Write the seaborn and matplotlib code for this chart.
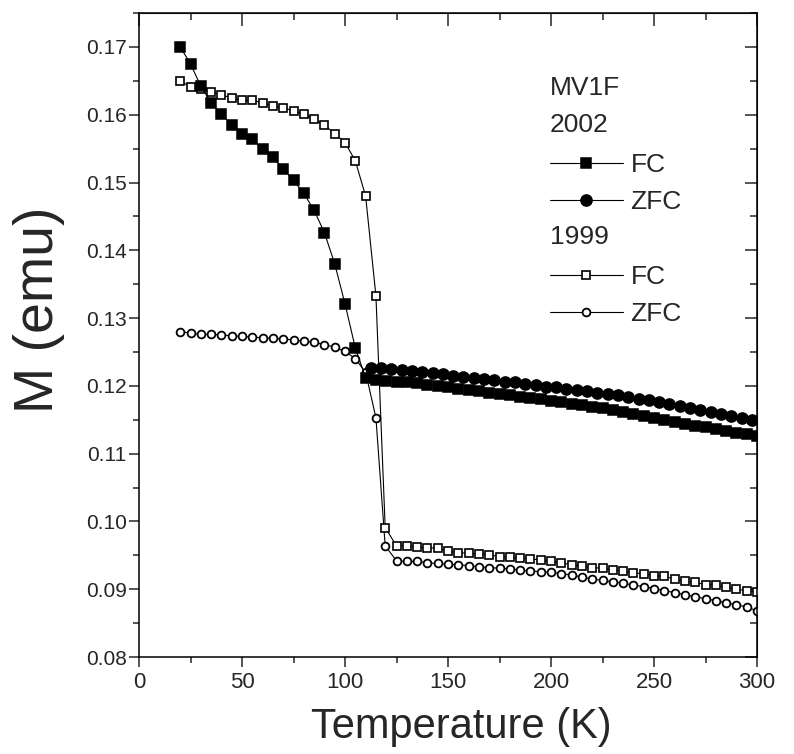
import numpy as np
import pandas as pd
import matplotlib
matplotlib.use("Agg")
import matplotlib.pyplot as plt
import seaborn as sns
from matplotlib.ticker import MultipleLocator, FormatStrFormatter

sns.set_style("ticks")
plt.rcParams['font.family'] = ['Liberation Sans', 'DejaVu Sans']

# 2002 FC (quadrados cheios)
t_fc02 = [20, 25, 30, 35, 40, 45, 50, 55, 60, 65, 70, 75, 80, 85, 90, 95, 100, 105,
          110, 115, 120, 125, 130, 135, 140, 145, 150, 155, 160, 165, 170, 175, 180, 185,
          190, 195, 200, 205, 210, 215, 220, 225, 230, 235, 240, 245, 250, 255, 260, 265,
          270, 275, 280, 285, 290, 295, 300]
m_fc02 = [0.1700, 0.1675, 0.1642, 0.1618, 0.1601, 0.1585, 0.1572, 0.1564, 0.1549, 0.1537,
          0.1520, 0.1503, 0.1484, 0.1459, 0.1426, 0.1380, 0.1321, 0.1256,
          0.1212, 0.1209, 0.1207, 0.1206, 0.1205, 0.1204, 0.1202, 0.1200, 0.1198, 0.1196,
          0.1194, 0.1192, 0.1190, 0.1188, 0.1186, 0.1184, 0.1182, 0.1180, 0.1178, 0.1176,
          0.1174, 0.1172, 0.1169, 0.1167, 0.1164, 0.1161, 0.1158, 0.1155, 0.1152, 0.1150,
          0.1147, 0.1144, 0.1141, 0.1139, 0.1136, 0.1134, 0.1131, 0.1129, 0.1126]

# 2002 ZFC (círculos cheios)
t_zfc02 = [112.5, 117.5, 122.5, 127.5, 132.5, 137.5, 142.5, 147.5, 152.5, 157.5, 162.5,
           167.5, 172.5, 177.5, 182.5, 187.5, 192.5, 197.5, 202.5, 207.5, 212.5, 217.5,
           222.5, 227.5, 232.5, 237.5, 242.5, 247.5, 252.5, 257.5, 262.5, 267.5, 272.5,
           277.5, 282.5, 287.5, 292.5, 297.5]
m_zfc02 = [0.1227, 0.1226, 0.1225, 0.1223, 0.1222, 0.1220, 0.1219, 0.1217, 0.1215, 0.1213,
           0.1212, 0.1210, 0.1208, 0.1206, 0.1205, 0.1203, 0.1201, 0.1199, 0.1198, 0.1196,
           0.1194, 0.1192, 0.1190, 0.1188, 0.1186, 0.1183, 0.1181, 0.1179, 0.1176, 0.1173,
           0.1170, 0.1167, 0.1164, 0.1161, 0.1158, 0.1155, 0.1152, 0.1149]

# 1999 FC (quadrados abertos)
t_fc99 = [20, 25, 30, 35, 40, 45, 50, 55, 60, 65, 70, 75, 80, 85, 90, 95, 100, 105, 110,
          115, 119.5, 125, 130, 135, 140, 145, 150, 155, 160, 165, 170, 175, 180, 185, 190,
          195, 200, 205, 210, 215, 220, 225, 230, 235, 240, 245, 250, 255, 260, 265, 270,
          275, 280, 285, 290, 295, 300]
m_fc99 = [0.1650, 0.1641, 0.1638, 0.1634, 0.1629, 0.1625, 0.1621, 0.1621, 0.1618, 0.1613,
          0.1610, 0.1606, 0.1601, 0.1593, 0.1585, 0.1572, 0.1559, 0.1532, 0.1480,
          0.1333, 0.0991, 0.0964, 0.0964, 0.0962, 0.0961, 0.0961, 0.0956, 0.0954, 0.0953,
          0.0952, 0.0951, 0.0948, 0.0947, 0.0946, 0.0945, 0.0943, 0.0941, 0.0939, 0.0936,
          0.0934, 0.0932, 0.0931, 0.0928, 0.0927, 0.0924, 0.0923, 0.0920, 0.0919, 0.0915,
          0.0912, 0.0910, 0.0907, 0.0906, 0.0903, 0.0900, 0.0898, 0.0896]

# 1999 ZFC (círculos abertos)
t_zfc99 = [20, 25, 30, 35, 40, 45, 50, 55, 60, 65, 70, 75, 80, 85, 90, 95, 100, 105, 110,
           115, 119.5, 125, 130, 135, 140, 145, 150, 155, 160, 165, 170, 175, 180, 185, 190,
           195, 200, 205, 210, 215, 220, 225, 230, 235, 240, 245, 250, 255, 260, 265, 270,
           275, 280, 285, 290, 295, 300]
m_zfc99 = [0.1280, 0.1278, 0.1276, 0.1276, 0.1275, 0.1274, 0.1273, 0.1272, 0.1271, 0.1270,
           0.1269, 0.1268, 0.1266, 0.1264, 0.1261, 0.1257, 0.1251, 0.1240, 0.1220,
           0.1153, 0.0964, 0.0942, 0.0941, 0.0941, 0.0939, 0.0938, 0.0937, 0.0936, 0.0935,
           0.0933, 0.0932, 0.0931, 0.0930, 0.0928, 0.0927, 0.0926, 0.0925, 0.0923, 0.0921,
           0.0918, 0.0915, 0.0913, 0.0911, 0.0909, 0.0906, 0.0904, 0.0901, 0.0898, 0.0895,
           0.0892, 0.0889, 0.0886, 0.0883, 0.0880, 0.0877, 0.0874, 0.0868]

fig = plt.figure(figsize=(7.94, 7.54), dpi=100)
ax = fig.add_axes([0.1751, 0.1286, 0.7783, 0.8541])

estilos = [
    (t_zfc99, m_zfc99, 'o', 'white', 5.6, 1.3),
    (t_fc99, m_fc99, 's', 'white', 6.0, 1.2),
    (t_zfc02, m_zfc02, 'o', 'black', 8.0, 1.1),
    (t_fc02, m_fc02, 's', 'black', 7.4, 1.1),
]
linhas = {}
for t, m, mk, fc, ms, mew in estilos:
    df = pd.DataFrame({'T': t, 'M': m})
    sns.lineplot(data=df, x='T', y='M', ax=ax, sort=False, estimator=None,
                 color='black', linewidth=0.8, marker=mk, markersize=ms,
                 markerfacecolor=fc, markeredgecolor='black', markeredgewidth=mew)
    linhas[(mk, fc)] = ax.lines[-1]

ax.set_xlim(0, 300)
ax.set_ylim(0.08, 0.175)
ax.xaxis.set_major_locator(MultipleLocator(50))
ax.xaxis.set_minor_locator(MultipleLocator(25))
ax.yaxis.set_major_locator(MultipleLocator(0.01))
ax.yaxis.set_minor_locator(MultipleLocator(0.005))
ax.yaxis.set_major_formatter(FormatStrFormatter('%.2f'))
ax.tick_params(axis='both', which='major', direction='out', length=7, width=1.1)
ax.tick_params(axis='both', which='minor', direction='out', length=4, width=1.1)
ax.tick_params(axis='y', labelsize=15, pad=2)
ax.tick_params(axis='x', labelsize=16)
for s in ax.spines.values():
    s.set_linewidth(1.1)
    s.set_color('black')

# eixos de cima e da direita com ticks para dentro
topo = ax.secondary_xaxis('top')
topo.xaxis.set_major_locator(MultipleLocator(50))
topo.xaxis.set_minor_locator(MultipleLocator(25))
topo.tick_params(which='major', direction='in', length=9, width=1.1, labeltop=False)
topo.tick_params(which='minor', direction='in', length=5, width=1.1)
direita = ax.secondary_yaxis('right')
direita.yaxis.set_major_locator(MultipleLocator(0.01))
direita.yaxis.set_minor_locator(MultipleLocator(0.005))
direita.tick_params(which='major', direction='in', length=9, width=1.1, labelright=False)
direita.tick_params(which='minor', direction='in', length=5, width=1.1)

ax.set_xlabel('Temperature (K)', fontsize=30, labelpad=10)
ax.xaxis.label.set_x(0.521)
ax.set_ylabel('M (emu)', fontsize=40)
ax.yaxis.set_label_coords(-0.12, 0.54)

# legenda
for texto, y in [('MV1F', 0.884), ('2002', 0.826), ('1999', 0.652)]:
    ax.text(0.665, y, texto, transform=ax.transAxes, fontsize=19, va='center', ha='left')
opts = dict(frameon=False, fontsize=19, loc='upper left', borderpad=0, borderaxespad=0,
            handlelength=2.75, handletextpad=0.3, labelspacing=0.5)
leg1 = ax.legend([linhas[('s', 'black')], linhas[('o', 'black')]], ['FC', 'ZFC'],
                 bbox_to_anchor=(0.665, 0.783), **opts)
ax.add_artist(leg1)
ax.legend([linhas[('s', 'white')], linhas[('o', 'white')]], ['FC', 'ZFC'],
          bbox_to_anchor=(0.665, 0.609), **opts)

plt.savefig('out.png', dpi=100)
plt.close()
